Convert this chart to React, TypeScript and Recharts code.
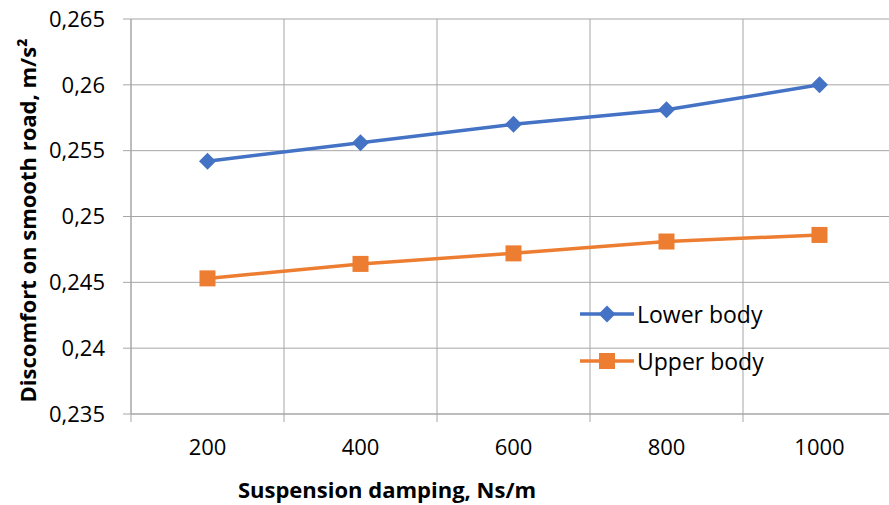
import React from "react";
import {
	CartesianGrid,
	Label,
	Legend,
	Line,
	LineChart,
	XAxis,
	YAxis,
} from "recharts";

const dampings = ["200", "400", "600", "800", "1000"];
const lowerBody = [0.2542, 0.2556, 0.257, 0.2581, 0.26];
const upperBody = [0.2453, 0.2464, 0.2472, 0.2481, 0.2486];
const yTicks = [0.235, 0.24, 0.245, 0.25, 0.255, 0.26, 0.265];

const data = dampings.map((d, i) => ({
	damping: d,
	lower: lowerBody[i],
	upper: upperBody[i],
}));

const BLUE = "#4472C4";
const ORANGE = "#ED7D31";
const GRID = "#A6A6A6";
const FONT = "'Open Sans', sans-serif";

const Diamond = (props: any) => {
	const { cx, cy } = props;
	if (cx == null || cy == null) return null;
	const r = 8.5;
	return (
		<polygon
			points={`${cx},${cy - r} ${cx + r},${cy} ${cx},${cy + r} ${cx - r},${cy}`}
			fill={BLUE}
		/>
	);
};

const Square = (props: any) => {
	const { cx, cy } = props;
	if (cx == null || cy == null) return null;
	const s = 16;
	return <rect x={cx - s / 2} y={cy - s / 2} width={s} height={s} fill={ORANGE} />;
};

const XTick = (props: any) => {
	const { x, y, payload } = props;
	const half = payload.offset || 76.5;
	return (
		<g>
			<line x1={x - half} x2={x - half} y1={y - 26} y2={y - 18} stroke={GRID} />
			<text x={x} y={y - 1} textAnchor="middle" dy="0.71em" fill="#000" fontSize={22} fontFamily={FONT}>
				{payload.value}
			</text>
		</g>
	);
};

const LegendBox = () => (
	<div style={{ fontFamily: FONT, fontSize: 23, color: "#000" }}>
		{[
			{ name: "Lower body", color: BLUE, marker: "diamond" },
			{ name: "Upper body", color: ORANGE, marker: "square" },
		].map((item) => (
			<div key={item.name} style={{ display: "flex", alignItems: "center", height: 47 }}>
				<svg width={58} height={20}>
					<line x1={2} x2={56} y1={10} y2={10} stroke={item.color} strokeWidth={3.5} />
					{item.marker === "diamond" ? (
						<polygon points="29,1.5 37.5,10 29,18.5 20.5,10" fill={item.color} />
					) : (
						<rect x={21} y={2} width={16} height={16} fill={item.color} />
					)}
				</svg>
				<span style={{ marginLeft: 1 }}>{item.name}</span>
			</div>
		))}
	</div>
);

const App = () => {
	return (
		<div
			style={{
				position: "absolute",
				left: 0,
				top: 0,
				width: 889,
				height: 505,
				overflow: "hidden",
				background: "#fff",
			}}
		>
			<LineChart
				width={900}
				height={505}
				data={data}
				margin={{ top: 19, right: 4, left: 0, bottom: 0 }}
			>
				<CartesianGrid
					stroke={GRID}
					verticalCoordinatesGenerator={({ offset }: any) =>
						Array.from({ length: 6 }, (_, i) => offset.left + (i * offset.width) / 5)
					}
				/>
				<XAxis
					dataKey="damping"
					scale="band"
					height={91}
					axisLine={{ stroke: GRID }}
					tickLine={false}
					tick={<XTick />}
					tickMargin={0}
					tickSize={26}
					interval={0}
				>
					<Label
						content={() => (
							<text
								x={387}
								y={489}
								textAnchor="middle"
								dominantBaseline="central"
								fontWeight="bold"
								fontSize={22}
								fontFamily={FONT}
								fill="#000"
							>
								Suspension damping, Ns/m
							</text>
						)}
					/>
				</XAxis>
				<YAxis
					width={131}
					domain={[0.235, 0.265]}
					ticks={yTicks}
					axisLine={{ stroke: GRID }}
					tickLine={{ stroke: GRID }}
					tickSize={8}
					tickMargin={18}
					tick={{ fill: "#000", fontSize: 22, fontFamily: FONT }}
					tickFormatter={(v: number) => String(v).replace(".", ",")}
				>
					<Label
						content={(p: any) => {
							const cy = p.viewBox.y + p.viewBox.height / 2 + 4;
							return (
								<text
									x={27}
									y={cy}
									transform={`rotate(-90, 27, ${cy})`}
									textAnchor="middle"
									dominantBaseline="central"
									fontWeight="bold"
									fontSize={22}
									fontFamily={FONT}
									fill="#000"
								>
									Discomfort on smooth road, m/s²
								</text>
							);
						}}
					/>
				</YAxis>
				<Legend
					layout="horizontal"
					verticalAlign="middle"
					align="center"
					content={<LegendBox />}
					wrapperStyle={{ left: 578, top: 290, width: 230 }}
				/>
				<Line
					dataKey="lower"
					name="Lower body"
					stroke={BLUE}
					strokeWidth={3.5}
					dot={<Diamond />}
					activeDot={false}
					isAnimationActive={false}
				/>
				<Line
					dataKey="upper"
					name="Upper body"
					stroke={ORANGE}
					strokeWidth={3.5}
					dot={<Square />}
					activeDot={false}
					isAnimationActive={false}
				/>
			</LineChart>
		</div>
	);
};

export default App;
